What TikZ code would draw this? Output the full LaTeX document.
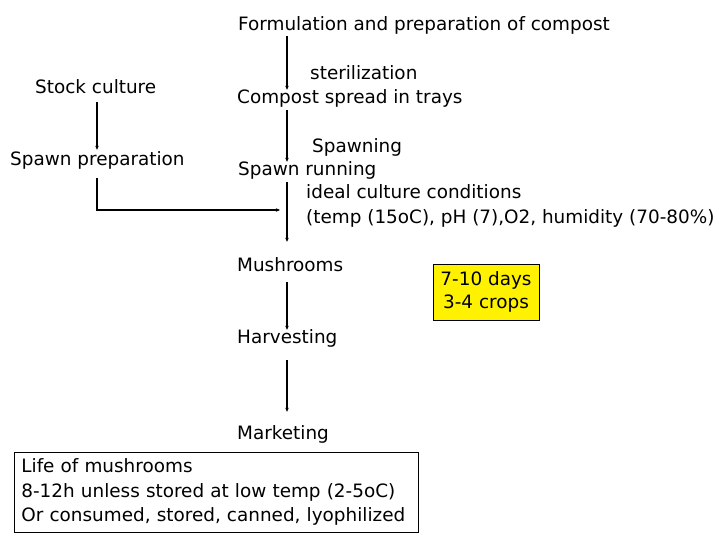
\documentclass[tikz,border=0pt]{standalone}
\usepackage{fontspec}
\setmainfont{DejaVu Sans}
\usepackage{tikz}
\usetikzlibrary{positioning}
\usetikzlibrary{arrows.meta}

\begin{document}
\begin{tikzpicture}[x=1pt, y=-1pt,
    txt/.style={anchor=west, inner sep=0pt, text height=14.5pt, text depth=1.5pt,
        font=\fontsize{18.4}{24.5}\selectfont},
    flow/.style={black, line width=1.2pt, -{Stealth[length=4pt,width=3.5pt]}}]
    \useasboundingbox (0,0) rectangle (720,540);
    \coordinate (spine) at (287,0);
    \coordinate (side) at (97,0);
    \node[txt] (formul) at (238, 24) {Formulation and preparation of compost};
    \node[txt] (steril) at (310, 73) {sterilization};
    \node[txt] (compost) at (237, 97) {Compost spread in trays};
    \node[txt] (stock) at (35, 87) {Stock culture};
    \node[txt] (spawnprep) at (10, 159) {Spawn preparation};
    \node[txt] (spawning) at (312, 146) {Spawning};
    \node[txt] (running) at (238, 169) {Spawn running};
    \node[txt] (ideal) at (306, 192) {ideal culture conditions};
    \node[txt] (cond) at (306, 217) {(temp (15oC), pH (7),O2, humidity (70-80\%)};
    \node[txt] (mush) at (237, 265) {Mushrooms};
    \node[txt] (harvest) at (237, 337) {Harvesting};
    \node[txt] (market) at (237, 433) {Marketing};
    \node[anchor=center, align=center, fill=yellow, draw=black, line width=0.8pt,
        font=\fontsize{18.4}{23}\selectfont,
        minimum width=106pt, minimum height=56pt] (days) at (486, 292)
        {\raisebox{-2pt}{7-10 days}\\\raisebox{-2pt}{3-4 crops}};
    \node[anchor=north west, align=left, draw=black, line width=0.8pt,
        font=\fontsize{18.4}{24.5}\selectfont,
        inner xsep=7pt, inner ysep=5pt, minimum width=404pt, minimum height=80pt,
        text width=390pt] (life) at (14, 452)
        {Life of mushrooms\\8-12h unless stored at low temp (2-5oC)\\Or consumed, stored, canned, lyophilized};
    \coordinate (join) at (280, 210);
    \draw[flow, shorten <=4pt, shorten >=-1pt] (formul.south -| spine) -- (compost.north -| spine);
    \draw[flow, shorten <=5pt, shorten >=-1pt] (compost.south -| spine) -- (running.north -| spine);
    \draw[flow, shorten <=5pt, shorten >=15pt] (running.south -| spine) -- (mush.north -| spine);
    \draw[flow, shorten <=9pt, shorten >=-1pt] (mush.south -| spine) -- (harvest.north -| spine);
    \draw[flow, shorten <=15pt, shorten >=13pt] (harvest.south -| spine) -- (market.north -| spine);
    \draw[flow, shorten <=7pt, shorten >=1pt] (stock.south -| side) -- (spawnprep.north -| side);
    \draw[flow, shorten <=11pt] (spawnprep.south -| side) |- (join);
\end{tikzpicture}
\end{document}
